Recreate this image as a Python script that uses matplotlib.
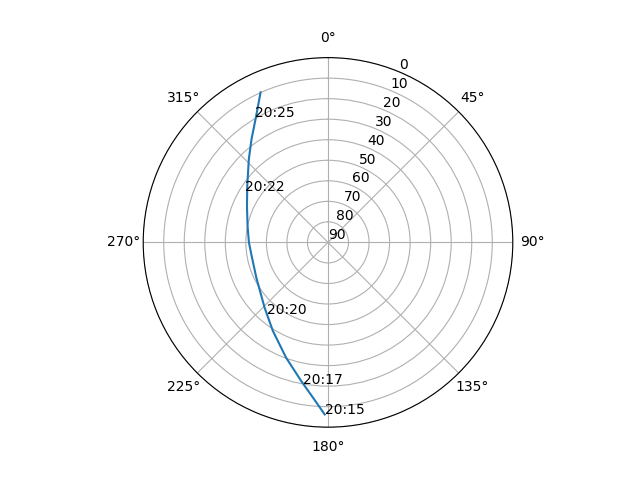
import numpy as np
import matplotlib
matplotlib.use("Agg")
import matplotlib.pyplot as plt

# pass track: azimuth (deg, clockwise from north) and elevation (deg)
az = [181.1, 185.5, 190.9, 199.9, 211.9, 224.2, 243.8, 261.2, 269.9,
      281.6, 294.3, 305.0, 316.5, 323.5, 329.6, 335.8]
el = [6.2, 14.0, 21.2, 30.2, 39.2, 45.7, 51.1, 52.2, 51.5,
      50.0, 46.7, 42.0, 34.0, 27.4, 20.3, 9.9]

# time labels along the track
label_times = ["20:15", "20:17", "20:20", "20:22", "20:25"]
label_az = [181.1, 190.0, 220.6, 302.0, 329.8]
label_el = [6.2, 19.9, 44.2, 42.6, 19.6]

fig = plt.figure(figsize=(6.4, 4.8), dpi=100)
ax = fig.add_subplot(111, projection="polar")
ax.set_theta_zero_location("N")
ax.set_theta_direction(-1)

ax.plot(np.radians(az), el)
for t, a, e in zip(label_times, label_az, label_el):
    ax.text(np.radians(a), e, t)

ax.set_rlim(90, 0)
ax.set_rticks(range(0, 91, 10))

fig.savefig("out.png")
